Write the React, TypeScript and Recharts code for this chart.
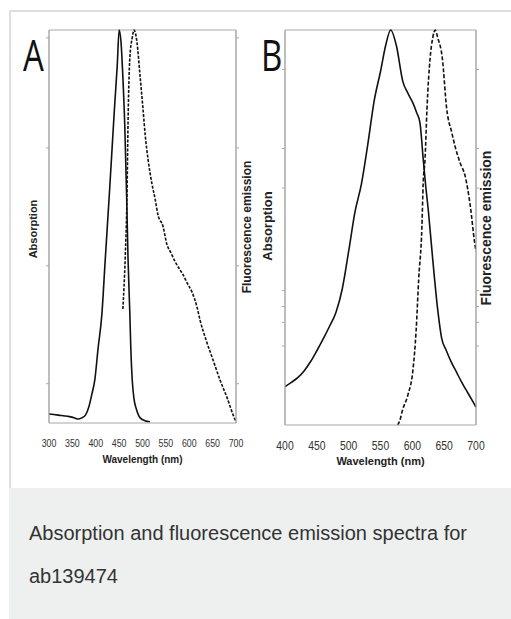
import { LineChart, Line, XAxis, YAxis, ReferenceLine } from 'recharts';

// panel A: absorption (solid) and fluorescence emission (dashed)
const aAbsNm = [300, 320, 340, 355, 362, 370, 378, 385, 392, 398, 405, 413, 420, 430, 440, 446, 450, 454, 458, 462, 466, 469, 473, 475, 478, 482, 487, 495, 505, 516];
const aAbsVal = [0.023, 0.02, 0.017, 0.013, 0.01, 0.013, 0.02, 0.04, 0.075, 0.11, 0.19, 0.275, 0.41, 0.6, 0.8, 0.91, 1.0, 0.97, 0.88, 0.76, 0.58, 0.42, 0.275, 0.19, 0.11, 0.06, 0.035, 0.013, 0.006, 0.003];
const aEmNm = [458, 463, 467, 469, 473, 478, 482, 488, 495, 501, 506, 512, 520, 527, 533, 544, 552, 560, 570, 580, 587, 596, 606, 617, 623, 636, 651, 666, 681, 694, 700];
const aEmVal = [0.29, 0.42, 0.59, 0.76, 0.93, 0.98, 1.0, 0.97, 0.88, 0.8, 0.73, 0.67, 0.61, 0.57, 0.53, 0.5, 0.455, 0.435, 0.41, 0.39, 0.377, 0.355, 0.333, 0.293, 0.262, 0.211, 0.16, 0.109, 0.064, 0.02, 0.003];

// panel B
const bAbsNm = [400, 410, 420, 430, 440, 450, 460, 470, 480, 490, 500, 510, 520, 530, 540, 550, 558, 566, 575, 585, 593, 601, 607, 612, 617, 621, 625, 632, 640, 646, 653, 661, 669, 677, 684, 692, 700];
const bAbsVal = [0.097, 0.108, 0.12, 0.137, 0.16, 0.188, 0.218, 0.25, 0.285, 0.345, 0.44, 0.54, 0.61, 0.71, 0.82, 0.895, 0.96, 1.0, 0.96, 0.87, 0.84, 0.815, 0.79, 0.765, 0.675, 0.605, 0.545, 0.42, 0.29, 0.22, 0.19, 0.16, 0.135, 0.11, 0.09, 0.068, 0.045];
const bEmNm = [577, 580, 585, 593, 601, 606, 610, 615, 617, 620, 623, 628, 632, 636, 640, 647, 654, 662, 668, 675, 683, 691, 698, 700];
const bEmVal = [0.0, 0.01, 0.04, 0.076, 0.14, 0.24, 0.37, 0.5, 0.61, 0.674, 0.8, 0.93, 0.98, 1.0, 0.98, 0.93, 0.8, 0.74, 0.7, 0.664, 0.63, 0.555, 0.46, 0.44];

const aTicks = [300, 350, 400, 450, 500, 550, 600, 650, 700];
const bTicks = [400, 450, 500, 550, 600, 650, 700];
const aYTicks = [0.1, 0.4, 0.7, 0.98];
const bYTicks = [0.2, 0.26, 0.3, 0.34, 0.6, 0.7, 0.9];

const zip = (nm: number[], v: number[]) => nm.map((n, i) => ({ nm: n, v: v[i] }));

const sans = "'Liberation Sans', Arial, sans-serif";
const axisGrey = '#a8a8a8';

// condensed tick label (the original uses a narrow face)
function NarrowTick(props: any) {
  const { x, y, payload, size } = props;
  return (
    <text
      transform={`translate(${x},${y}) scale(0.8,1)`}
      textAnchor="middle"
      dy="0.71em"
      fontSize={size}
      fontFamily={sans}
      fill="#333"
    >
      {payload.value}
    </text>
  );
}

type PanelProps = {
  left: number;
  abs: { nm: number; v: number }[];
  em: { nm: number; v: number }[];
  domain: [number, number];
  ticks: number[];
  yTicks: number[];
  margin: { top: number; right: number; bottom: number; left: number };
  tickSize: number;
  labelSize: number;
  dash: string;
};

function Panel(p: PanelProps) {
  return (
    <div style={{ position: 'absolute', left: p.left, top: 0 }}>
      <LineChart width={255} height={480} margin={p.margin}>
        <XAxis
          type="number"
          dataKey="nm"
          domain={p.domain}
          ticks={p.ticks}
          interval={0}
          allowDataOverflow
          stroke={axisGrey}
          tickLine={false}
          tickMargin={10}
          height={42}
          tick={<NarrowTick size={p.tickSize} />}
          label={{
            value: 'Wavelength (nm)',
            position: 'insideBottom',
            offset: 2,
            style: { fontSize: p.labelSize, fontWeight: 'bold', fill: '#222', fontFamily: sans },
          }}
        />
        <YAxis yAxisId="l" domain={[0, 1]} ticks={p.yTicks} width={1} stroke={axisGrey} tickSize={3} tickFormatter={() => ''} />
        <YAxis yAxisId="r" orientation="right" domain={[0, 1]} ticks={p.yTicks} width={1} stroke={axisGrey} tickSize={3} tickFormatter={() => ''} />
        <ReferenceLine yAxisId="l" y={1} stroke={axisGrey} />
        <ReferenceLine yAxisId="l" x={p.domain[0]} stroke={axisGrey} />
        <ReferenceLine yAxisId="l" x={p.domain[1]} stroke={axisGrey} />
        <Line yAxisId="l" data={p.abs} dataKey="v" type="monotone" stroke="#111" strokeWidth={1.6} dot={false} isAnimationActive={false} />
        <Line yAxisId="r" data={p.em} dataKey="v" type="monotone" stroke="#111" strokeWidth={1.6} strokeDasharray={p.dash} dot={false} isAnimationActive={false} />
      </LineChart>
    </div>
  );
}

function Rot({ x, y, size, text }: { x: number; y: number; size: number; text: string }) {
  return (
    <div
      style={{
        position: 'absolute',
        left: x,
        top: y,
        transform: 'translate(-50%, -50%) rotate(-90deg)',
        whiteSpace: 'nowrap',
        fontFamily: sans,
        fontWeight: 'bold',
        fontSize: size,
        color: '#222',
      }}
    >
      {text}
    </div>
  );
}

const letterStyle = {
  position: 'absolute' as const,
  top: 28,
  fontFamily: "'Open Sans', 'DejaVu Sans', sans-serif",
  fontWeight: 400,
  fontSize: 44,
  lineHeight: '52px',
  color: '#111',
  transform: 'scale(0.75,1)',
  transformOrigin: 'left top',
};

export default function App() {
  return (
    <div style={{ position: 'absolute', left: 0, top: 0, width: 511, height: 619, overflow: 'hidden', background: '#fff' }}>
      <div style={{ position: 'absolute', left: 9, top: 10, width: 540, height: 476, border: '2px solid #dedede' }} />
      <div style={{ position: 'absolute', left: 9, top: 488, width: 540, height: 131, background: '#eef0ef' }} />
      <Panel
        left={0}
        abs={zip(aAbsNm, aAbsVal)}
        em={zip(aEmNm, aEmVal)}
        domain={[300, 700]}
        ticks={aTicks}
        yTicks={aYTicks}
        margin={{ top: 30, right: 18, bottom: 15, left: 48 }}
        tickSize={11}
        labelSize={10}
        dash="3 1.5"
      />
      <Panel
        left={256}
        abs={zip(bAbsNm, bAbsVal)}
        em={zip(bEmNm, bEmVal)}
        domain={[400, 700]}
        ticks={bTicks}
        yTicks={bYTicks}
        margin={{ top: 30, right: 34, bottom: 13, left: 28 }}
        tickSize={13}
        labelSize={11}
        dash="4 2"
      />
      <div style={{ ...letterStyle, left: 23 }}>A</div>
      <div style={{ ...letterStyle, left: 261 }}>B</div>
      <Rot x={33} y={229} size={11} text="Absorption" />
      <Rot x={247} y={227} size={12} text="Fluorescence emission" />
      <Rot x={267} y={226} size={13} text="Absorption" />
      <Rot x={486} y={228} size={14} text="Fluorescence emission" />
      <div style={{ position: 'absolute', left: 29, top: 522, fontFamily: sans, fontSize: 20, color: '#333', whiteSpace: 'nowrap' }}>
        Absorption and fluorescence emission spectra for
      </div>
      <div style={{ position: 'absolute', left: 29, top: 565, fontFamily: sans, fontSize: 20, color: '#333' }}>ab139474</div>
    </div>
  );
}
